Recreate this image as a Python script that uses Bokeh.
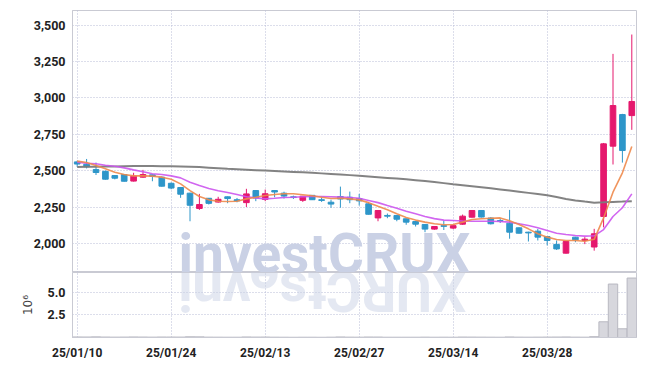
import math
from bokeh.plotting import figure
from bokeh.models import (Range1d, FixedTicker, NumeralTickFormatter,
                          CustomJSTickFormatter, Label)
from bokeh.layouts import column
from bokeh.embed import file_html
from bokeh.resources import INLINE

# ---------------- data ----------------
dates = ["25/01/10", "25/01/13", "25/01/14", "25/01/15", "25/01/16", "25/01/17",
         "25/01/20", "25/01/21", "25/01/22", "25/01/23", "25/01/24", "25/01/31",
         "25/02/03", "25/02/04", "25/02/05", "25/02/06", "25/02/07", "25/02/10",
         "25/02/11", "25/02/12", "25/02/13", "25/02/14", "25/02/17", "25/02/18",
         "25/02/19", "25/02/20", "25/02/21", "25/02/24", "25/02/25", "25/02/26",
         "25/02/27", "25/02/28", "25/03/04", "25/03/05", "25/03/06", "25/03/07",
         "25/03/10", "25/03/11", "25/03/12", "25/03/13", "25/03/14", "25/03/17",
         "25/03/18", "25/03/19", "25/03/20", "25/03/21", "25/03/24", "25/03/25",
         "25/03/26", "25/03/27", "25/03/28", "25/03/31", "25/04/01", "25/04/02",
         "25/04/03", "25/04/04", "25/04/07", "25/04/08", "25/04/09", "25/04/10"]

opens = [2560, 2544, 2507, 2495, 2466, 2473, 2428, 2455, 2471, 2455,
         2413, 2384, 2345, 2240, 2310, 2284, 2320, 2300, 2280, 2363,
         2302, 2363, 2345, 2320, 2296, 2330, 2300, 2283, 2322, 2317,
         2308, 2272, 2175, 2192, 2192, 2169, 2150, 2130, 2098, 2122,
         2105, 2132, 2180, 2226, 2174, 2157, 2139, 2107, 2077, 2084,
         2047, 1993, 1933, 2043, 2020, 1975, 2185, 2668, 2885, 2878]
highs = [2568, 2580, 2555, 2500, 2468, 2475, 2485, 2505, 2474, 2460,
         2418, 2386, 2348, 2340, 2312, 2320, 2322, 2312, 2375, 2365,
         2370, 2365, 2355, 2328, 2326, 2332, 2315, 2300, 2390, 2356,
         2340, 2283, 2228, 2205, 2195, 2170, 2153, 2132, 2118, 2155,
         2125, 2198, 2228, 2228, 2180, 2172, 2230, 2110, 2080, 2100,
         2050, 2020, 2015, 2045, 2043, 2100, 2690, 3302, 2890, 3435]
lows = [2525, 2515, 2470, 2438, 2440, 2425, 2425, 2452, 2427, 2390,
        2372, 2313, 2152, 2230, 2267, 2280, 2276, 2282, 2250, 2290,
        2290, 2317, 2308, 2305, 2285, 2298, 2285, 2245, 2245, 2276,
        2260, 2198, 2152, 2173, 2152, 2128, 2116, 2077, 2094, 2092,
        2098, 2128, 2178, 2178, 2130, 2140, 2032, 2068, 2013, 2020,
        1986, 1955, 1930, 2008, 1995, 1950, 2110, 2542, 2555, 2780]
closes = [2545, 2526, 2487, 2441, 2448, 2427, 2462, 2473, 2460, 2393,
          2380, 2338, 2262, 2267, 2275, 2303, 2308, 2292, 2340, 2312,
          2341, 2353, 2325, 2315, 2324, 2300, 2295, 2270, 2305, 2300,
          2292, 2200, 2226, 2187, 2166, 2146, 2132, 2098, 2116, 2117,
          2122, 2187, 2226, 2181, 2135, 2152, 2077, 2070, 2072, 2043,
          2020, 1962, 2013, 2025, 2029, 2066, 2684, 2947, 2638, 2975]

ma_short = [2565, 2556, 2535, 2512, 2489, 2473, 2464, 2464, 2462, 2455,
            2441, 2409, 2363, 2322, 2299, 2289, 2288, 2290, 2306, 2317,
            2329, 2336, 2341, 2341, 2334, 2327, 2317, 2308, 2310, 2306,
            2299, 2280, 2255, 2231, 2203, 2178, 2160, 2146, 2135, 2128,
            2130, 2146, 2164, 2169, 2173, 2175, 2155, 2130, 2100, 2066,
            2043, 2027, 2020, 2020, 2015, 2028, 2175, 2352, 2485, 2665]
ma_mid = [2558, 2551, 2547, 2537, 2530, 2519, 2505, 2492, 2478, 2473,
          2464, 2450, 2420, 2398, 2377, 2362, 2350, 2336, 2320, 2313,
          2306, 2310, 2315, 2317, 2320, 2322, 2322, 2320, 2318, 2315,
          2310, 2295, 2280, 2260, 2242, 2221, 2203, 2185, 2170, 2160,
          2157, 2154, 2152, 2152, 2152, 2150, 2146, 2135, 2123, 2107,
          2089, 2070, 2061, 2054, 2050, 2052, 2095, 2185, 2245, 2340]
ma_long = [2525, 2526, 2527, 2528, 2529, 2530, 2531, 2531, 2531, 2530,
           2530, 2529, 2527, 2524, 2520, 2516, 2512, 2509, 2506, 2503,
           2500, 2497, 2494, 2491, 2488, 2485, 2481, 2477, 2473, 2469,
           2465, 2460, 2455, 2450, 2445, 2440, 2434, 2428, 2421, 2414,
           2406, 2399, 2392, 2385, 2378, 2371, 2363, 2355, 2347, 2339,
           2330, 2318, 2305, 2295, 2287, 2280, 2282, 2285, 2287, 2290]

volumes = [60000, 55000, 70000, 50000, 40000, 45000, 60000, 50000, 40000, 55000,
           50000, 45000, 80000, 70000, 40000, 35000, 30000, 30000, 60000, 45000,
           50000, 35000, 30000, 25000, 30000, 30000, 25000, 35000, 60000, 40000,
           35000, 55000, 50000, 30000, 30000, 30000, 30000, 40000, 30000, 35000,
           30000, 50000, 45000, 40000, 35000, 30000, 60000, 40000, 35000, 40000,
           45000, 50000, 60000, 40000, 35000, 90000, 1730000, 5880000, 960000, 6540000]

price_ticks = [2000, 2250, 2500, 2750, 3000, 3250, 3500]
volume_ticks = [2500000, 5000000]
date_tick_idx = [0, 10, 20, 30, 40, 50]
watermark = "investCRUX"

# ---------------- style ----------------
UP = "#e5186d"
DOWN = "#2e96c9"
GRID = "#b9bdd6"
FRAME = "#c9cad3"
TXT = "#222222"
WM = "#cad1e5"

idx = list(range(len(dates)))
colors = [UP if c >= o else DOWN for o, c in zip(opens, closes)]
tops = [max(o, c) for o, c in zip(opens, closes)]
bots = [min(o, c) for o, c in zip(opens, closes)]

xr = Range1d(-0.5, len(dates) - 0.5)
Y0, Y1 = 1800, 3600
V1 = 7150000
MAIN_FRAME_H = 262
VOL_FRAME_H = 65

p = figure(width=640, height=272, x_range=xr, y_range=Range1d(Y0, Y1),
           output_backend="svg", toolbar_location=None, x_axis_location=None,
           min_border_left=72, min_border_right=4, min_border_top=10,
           min_border_bottom=0)
p.outline_line_color = FRAME
p.background_fill_color = "white"

ya = p.yaxis[0]
ya.ticker = FixedTicker(ticks=price_ticks)
ya.formatter = NumeralTickFormatter(format="0,0")
ya.major_tick_line_color = None
ya.minor_tick_line_color = None
ya.major_tick_out = 0
ya.major_tick_in = 0
ya.axis_line_color = FRAME
ya.major_label_text_font = "Roboto"
ya.major_label_text_font_style = "bold"
ya.major_label_text_font_size = "12.5px"
ya.major_label_text_color = TXT
ya.major_label_standoff = 7

p.ygrid.ticker = FixedTicker(ticks=price_ticks)
p.xgrid.ticker = FixedTicker(ticks=date_tick_idx)
for g in (p.xgrid[0], p.ygrid[0]):
    g.grid_line_color = GRID
    g.grid_line_dash = "1 2"
    g.grid_line_width = 1

# watermark (label box bottom sits one font-descent below the baseline)
wm_font_px = 55
wm_left = 10.78
desc_px = 0.244 * wm_font_px
p.add_layout(Label(x=wm_left, y=Y0 - desc_px * (Y1 - Y0) / MAIN_FRAME_H,
                   text=watermark, text_font="Roboto",
                   text_font_style="bold", text_font_size=f"{wm_font_px}px",
                   text_color=WM, text_baseline="bottom", text_align="left",
                   level="underlay"))

# candles
p.segment(x0=idx, y0=lows, x1=idx, y1=highs, line_color=colors, line_width=1)
p.vbar(x=idx, width=0.6, top=tops, bottom=bots, fill_color=colors,
       line_color=colors, line_width=1)

# moving averages
p.line(idx, ma_long, line_color="#7c7c7c", line_width=2, line_alpha=0.95)
p.line(idx, ma_mid, line_color="#cc55ee", line_width=1.6, line_alpha=0.9)
p.line(idx, ma_short, line_color="#ee8a4c", line_width=1.6, line_alpha=0.9)

# ---------------- volume panel ----------------
pv = figure(width=640, height=94, x_range=xr, y_range=Range1d(0, V1),
            output_backend="svg", toolbar_location=None,
            min_border_left=72, min_border_right=4, min_border_top=0,
            min_border_bottom=29)
pv.outline_line_color = FRAME

vy = pv.yaxis[0]
vy.ticker = FixedTicker(ticks=volume_ticks)
vy.formatter = CustomJSTickFormatter(code="return (tick/1e6).toFixed(1);")
vy.major_tick_line_color = None
vy.minor_tick_line_color = None
vy.major_tick_out = 0
vy.major_tick_in = 0
vy.axis_line_color = FRAME
vy.major_label_text_font = "Roboto"
vy.major_label_text_font_style = "bold"
vy.major_label_text_font_size = "12.5px"
vy.major_label_text_color = TXT
vy.major_label_standoff = 7
vy.axis_label = "10\u2076"
vy.axis_label_text_font = "DejaVu Sans"
vy.axis_label_text_font_style = "normal"
vy.axis_label_text_font_size = "12px"
vy.axis_label_text_color = "#444444"
vy.axis_label_standoff = 10

vx = pv.xaxis[0]
vx.ticker = FixedTicker(ticks=date_tick_idx)
vx.major_label_overrides = {i: dates[i] for i in date_tick_idx}
vx.major_tick_line_color = None
vx.minor_tick_line_color = None
vx.major_tick_out = 0
vx.major_tick_in = 0
vx.axis_line_color = FRAME
vx.major_label_text_font = "Roboto"
vx.major_label_text_font_style = "bold"
vx.major_label_text_font_size = "12px"
vx.major_label_text_color = TXT
vx.major_label_standoff = 8

pv.ygrid.ticker = FixedTicker(ticks=volume_ticks)
pv.xgrid.ticker = FixedTicker(ticks=date_tick_idx)
for g in (pv.xgrid[0], pv.ygrid[0]):
    g.grid_line_color = GRID
    g.grid_line_dash = "1 2"
    g.grid_line_width = 1

# watermark reflection (each letter turned upside down below the panel edge)
em_widths = [0.253, 0.553, 0.496, 0.530, 0.516, 0.330, 0.651, 0.628, 0.648, 0.628]
px_per_unit = 564 / len(dates)
refl_y = V1 + desc_px * V1 / VOL_FRAME_H
cum = 0.0
for ch, w in zip(watermark, em_widths):
    wpx = w * wm_font_px
    cx = wm_left + (cum + wpx / 2) / px_per_unit
    cum += wpx
    pv.add_layout(Label(x=cx, y=refl_y, text=ch, angle=math.pi,
                        text_font="Roboto", text_font_style="bold",
                        text_font_size=f"{wm_font_px}px", text_color=WM,
                        text_alpha=0.5, text_baseline="bottom",
                        text_align="center", level="underlay"))

pv.vbar(x=idx, top=volumes, bottom=0, width=1.0, fill_color="#d7d7dd",
        line_color="#b8b8c1", line_width=1)

layout = column(p, pv, spacing=0)
open("out.html", "w").write(file_html(layout, INLINE))
